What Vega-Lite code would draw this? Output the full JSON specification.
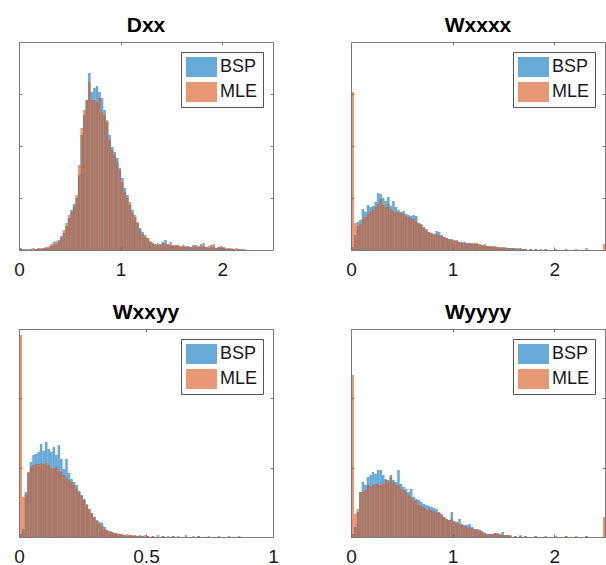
{
  "$schema": "https://vega.github.io/schema/vega-lite/v6.json",
  "padding": {"left": 13, "top": 14, "right": 0, "bottom": 0},
  "background": "white",
  "columns": 2,
  "spacing": {"row": 79, "column": 78},
  "bounds": "flush",
  "datasets": {
    "dxx": [
      {"s":"BSP","x":0,"c":1},{"s":"BSP","x":0.05,"c":1},{"s":"BSP","x":0.1,"c":1},{"s":"BSP","x":0.15,"c":1},{"s":"BSP","x":0.175,"c":2},{"s":"BSP","x":0.2,"c":1},{"s":"BSP","x":0.225,"c":2},{"s":"BSP","x":0.25,"c":3},{"s":"BSP","x":0.275,"c":2},{"s":"BSP","x":0.3,"c":4},{"s":"BSP","x":0.325,"c":8},{"s":"BSP","x":0.35,"c":6},{"s":"BSP","x":0.375,"c":10},{"s":"BSP","x":0.4,"c":14},{"s":"BSP","x":0.425,"c":17},{"s":"BSP","x":0.45,"c":24},{"s":"BSP","x":0.475,"c":32},{"s":"BSP","x":0.5,"c":40},{"s":"BSP","x":0.525,"c":46},{"s":"BSP","x":0.55,"c":52},{"s":"BSP","x":0.575,"c":75},{"s":"BSP","x":0.6,"c":115},{"s":"BSP","x":0.625,"c":135},{"s":"BSP","x":0.65,"c":150},{"s":"BSP","x":0.675,"c":177},{"s":"BSP","x":0.7,"c":158},{"s":"BSP","x":0.725,"c":162},{"s":"BSP","x":0.75,"c":164},{"s":"BSP","x":0.775,"c":158},{"s":"BSP","x":0.8,"c":152},{"s":"BSP","x":0.825,"c":140},{"s":"BSP","x":0.85,"c":128},{"s":"BSP","x":0.875,"c":115},{"s":"BSP","x":0.9,"c":103},{"s":"BSP","x":0.925,"c":98},{"s":"BSP","x":0.95,"c":92},{"s":"BSP","x":0.975,"c":82},{"s":"BSP","x":1.0,"c":72},{"s":"BSP","x":1.025,"c":62},{"s":"BSP","x":1.05,"c":55},{"s":"BSP","x":1.075,"c":45},{"s":"BSP","x":1.1,"c":40},{"s":"BSP","x":1.125,"c":33},{"s":"BSP","x":1.15,"c":27},{"s":"BSP","x":1.175,"c":22},{"s":"BSP","x":1.2,"c":18},{"s":"BSP","x":1.225,"c":15},{"s":"BSP","x":1.25,"c":12},{"s":"BSP","x":1.275,"c":8},{"s":"BSP","x":1.3,"c":7},{"s":"BSP","x":1.325,"c":6},{"s":"BSP","x":1.35,"c":5},{"s":"BSP","x":1.375,"c":6},{"s":"BSP","x":1.4,"c":8},{"s":"BSP","x":1.425,"c":10},{"s":"BSP","x":1.45,"c":6},{"s":"BSP","x":1.475,"c":5},{"s":"BSP","x":1.5,"c":4},{"s":"BSP","x":1.525,"c":5},{"s":"BSP","x":1.55,"c":4},{"s":"BSP","x":1.575,"c":3},{"s":"BSP","x":1.6,"c":5},{"s":"BSP","x":1.625,"c":3},{"s":"BSP","x":1.65,"c":4},{"s":"BSP","x":1.675,"c":3},{"s":"BSP","x":1.7,"c":4},{"s":"BSP","x":1.725,"c":5},{"s":"BSP","x":1.75,"c":3},{"s":"BSP","x":1.775,"c":6},{"s":"BSP","x":1.8,"c":4},{"s":"BSP","x":1.825,"c":3},{"s":"BSP","x":1.85,"c":2},{"s":"BSP","x":1.875,"c":5},{"s":"BSP","x":1.9,"c":3},{"s":"BSP","x":1.925,"c":2},{"s":"BSP","x":1.95,"c":3},{"s":"BSP","x":1.975,"c":4},{"s":"BSP","x":2.0,"c":2},{"s":"BSP","x":2.025,"c":1},{"s":"BSP","x":2.05,"c":2},{"s":"BSP","x":2.075,"c":1},{"s":"BSP","x":2.1,"c":1},{"s":"BSP","x":2.15,"c":1},
      {"s":"MLE","x":0,"c":2},{"s":"MLE","x":0.025,"c":1},{"s":"MLE","x":0.075,"c":1},{"s":"MLE","x":0.1,"c":1},{"s":"MLE","x":0.125,"c":2},{"s":"MLE","x":0.15,"c":1},{"s":"MLE","x":0.175,"c":1},{"s":"MLE","x":0.2,"c":2},{"s":"MLE","x":0.225,"c":2},{"s":"MLE","x":0.25,"c":2},{"s":"MLE","x":0.275,"c":4},{"s":"MLE","x":0.3,"c":6},{"s":"MLE","x":0.325,"c":5},{"s":"MLE","x":0.35,"c":9},{"s":"MLE","x":0.375,"c":8},{"s":"MLE","x":0.4,"c":12},{"s":"MLE","x":0.425,"c":20},{"s":"MLE","x":0.45,"c":27},{"s":"MLE","x":0.475,"c":35},{"s":"MLE","x":0.5,"c":38},{"s":"MLE","x":0.525,"c":44},{"s":"MLE","x":0.55,"c":55},{"s":"MLE","x":0.575,"c":85},{"s":"MLE","x":0.6,"c":122},{"s":"MLE","x":0.625,"c":140},{"s":"MLE","x":0.65,"c":150},{"s":"MLE","x":0.675,"c":168},{"s":"MLE","x":0.7,"c":150},{"s":"MLE","x":0.725,"c":150},{"s":"MLE","x":0.75,"c":148},{"s":"MLE","x":0.775,"c":152},{"s":"MLE","x":0.8,"c":138},{"s":"MLE","x":0.825,"c":135},{"s":"MLE","x":0.85,"c":130},{"s":"MLE","x":0.875,"c":110},{"s":"MLE","x":0.9,"c":100},{"s":"MLE","x":0.925,"c":95},{"s":"MLE","x":0.95,"c":88},{"s":"MLE","x":0.975,"c":80},{"s":"MLE","x":1.0,"c":68},{"s":"MLE","x":1.025,"c":58},{"s":"MLE","x":1.05,"c":52},{"s":"MLE","x":1.075,"c":48},{"s":"MLE","x":1.1,"c":37},{"s":"MLE","x":1.125,"c":35},{"s":"MLE","x":1.15,"c":28},{"s":"MLE","x":1.175,"c":20},{"s":"MLE","x":1.2,"c":16},{"s":"MLE","x":1.225,"c":13},{"s":"MLE","x":1.25,"c":12},{"s":"MLE","x":1.275,"c":9},{"s":"MLE","x":1.3,"c":6},{"s":"MLE","x":1.325,"c":5},{"s":"MLE","x":1.35,"c":7},{"s":"MLE","x":1.375,"c":5},{"s":"MLE","x":1.4,"c":7},{"s":"MLE","x":1.425,"c":6},{"s":"MLE","x":1.45,"c":5},{"s":"MLE","x":1.475,"c":8},{"s":"MLE","x":1.5,"c":5},{"s":"MLE","x":1.525,"c":4},{"s":"MLE","x":1.55,"c":5},{"s":"MLE","x":1.575,"c":4},{"s":"MLE","x":1.6,"c":3},{"s":"MLE","x":1.625,"c":4},{"s":"MLE","x":1.65,"c":3},{"s":"MLE","x":1.675,"c":3},{"s":"MLE","x":1.7,"c":5},{"s":"MLE","x":1.725,"c":3},{"s":"MLE","x":1.75,"c":4},{"s":"MLE","x":1.775,"c":3},{"s":"MLE","x":1.8,"c":7},{"s":"MLE","x":1.825,"c":3},{"s":"MLE","x":1.85,"c":4},{"s":"MLE","x":1.875,"c":3},{"s":"MLE","x":1.9,"c":6},{"s":"MLE","x":1.925,"c":2},{"s":"MLE","x":1.95,"c":3},{"s":"MLE","x":1.975,"c":2},{"s":"MLE","x":2.0,"c":3},{"s":"MLE","x":2.025,"c":2},{"s":"MLE","x":2.05,"c":1},{"s":"MLE","x":2.075,"c":2},{"s":"MLE","x":2.1,"c":1},{"s":"MLE","x":2.125,"c":2},{"s":"MLE","x":2.15,"c":1},{"s":"MLE","x":2.175,"c":1},{"s":"MLE","x":2.2,"c":1}
    ],
    "wxxxx": [
      {"s":"BSP","x":0,"c":3},{"s":"BSP","x":0.025,"c":15},{"s":"BSP","x":0.05,"c":28},{"s":"BSP","x":0.075,"c":30},{"s":"BSP","x":0.1,"c":41},{"s":"BSP","x":0.125,"c":38},{"s":"BSP","x":0.15,"c":45},{"s":"BSP","x":0.175,"c":43},{"s":"BSP","x":0.2,"c":44},{"s":"BSP","x":0.225,"c":48},{"s":"BSP","x":0.25,"c":57},{"s":"BSP","x":0.275,"c":56},{"s":"BSP","x":0.3,"c":52},{"s":"BSP","x":0.325,"c":49},{"s":"BSP","x":0.35,"c":53},{"s":"BSP","x":0.375,"c":44},{"s":"BSP","x":0.4,"c":49},{"s":"BSP","x":0.425,"c":43},{"s":"BSP","x":0.45,"c":40},{"s":"BSP","x":0.475,"c":38},{"s":"BSP","x":0.5,"c":39},{"s":"BSP","x":0.525,"c":36},{"s":"BSP","x":0.55,"c":35},{"s":"BSP","x":0.575,"c":34},{"s":"BSP","x":0.6,"c":35},{"s":"BSP","x":0.625,"c":34},{"s":"BSP","x":0.65,"c":27},{"s":"BSP","x":0.675,"c":26},{"s":"BSP","x":0.7,"c":23},{"s":"BSP","x":0.725,"c":20},{"s":"BSP","x":0.75,"c":18},{"s":"BSP","x":0.775,"c":17},{"s":"BSP","x":0.8,"c":16},{"s":"BSP","x":0.825,"c":19},{"s":"BSP","x":0.85,"c":18},{"s":"BSP","x":0.875,"c":15},{"s":"BSP","x":0.9,"c":13},{"s":"BSP","x":0.925,"c":12},{"s":"BSP","x":0.95,"c":11},{"s":"BSP","x":0.975,"c":11},{"s":"BSP","x":1.0,"c":10},{"s":"BSP","x":1.025,"c":9},{"s":"BSP","x":1.05,"c":8},{"s":"BSP","x":1.075,"c":8},{"s":"BSP","x":1.1,"c":8},{"s":"BSP","x":1.125,"c":7},{"s":"BSP","x":1.15,"c":7},{"s":"BSP","x":1.175,"c":6},{"s":"BSP","x":1.2,"c":7},{"s":"BSP","x":1.225,"c":6},{"s":"BSP","x":1.25,"c":5},{"s":"BSP","x":1.275,"c":5},{"s":"BSP","x":1.3,"c":4},{"s":"BSP","x":1.325,"c":4},{"s":"BSP","x":1.35,"c":4},{"s":"BSP","x":1.375,"c":3},{"s":"BSP","x":1.4,"c":3},{"s":"BSP","x":1.425,"c":3},{"s":"BSP","x":1.45,"c":2},{"s":"BSP","x":1.475,"c":3},{"s":"BSP","x":1.5,"c":2},{"s":"BSP","x":1.525,"c":2},{"s":"BSP","x":1.55,"c":2},{"s":"BSP","x":1.575,"c":2},{"s":"BSP","x":1.6,"c":2},{"s":"BSP","x":1.625,"c":1},{"s":"BSP","x":1.65,"c":2},{"s":"BSP","x":1.675,"c":1},{"s":"BSP","x":1.7,"c":1},{"s":"BSP","x":1.75,"c":1},{"s":"BSP","x":1.8,"c":1},{"s":"BSP","x":1.9,"c":1},{"s":"BSP","x":2.1,"c":1},
      {"s":"MLE","x":0,"c":158},{"s":"MLE","x":0.025,"c":27},{"s":"MLE","x":0.05,"c":24},{"s":"MLE","x":0.075,"c":26},{"s":"MLE","x":0.1,"c":31},{"s":"MLE","x":0.125,"c":33},{"s":"MLE","x":0.15,"c":36},{"s":"MLE","x":0.175,"c":39},{"s":"MLE","x":0.2,"c":40},{"s":"MLE","x":0.225,"c":43},{"s":"MLE","x":0.25,"c":46},{"s":"MLE","x":0.275,"c":51},{"s":"MLE","x":0.3,"c":45},{"s":"MLE","x":0.325,"c":43},{"s":"MLE","x":0.35,"c":46},{"s":"MLE","x":0.375,"c":41},{"s":"MLE","x":0.4,"c":39},{"s":"MLE","x":0.425,"c":38},{"s":"MLE","x":0.45,"c":38},{"s":"MLE","x":0.475,"c":37},{"s":"MLE","x":0.5,"c":36},{"s":"MLE","x":0.525,"c":34},{"s":"MLE","x":0.55,"c":33},{"s":"MLE","x":0.575,"c":32},{"s":"MLE","x":0.6,"c":31},{"s":"MLE","x":0.625,"c":28},{"s":"MLE","x":0.65,"c":27},{"s":"MLE","x":0.675,"c":25},{"s":"MLE","x":0.7,"c":22},{"s":"MLE","x":0.725,"c":21},{"s":"MLE","x":0.75,"c":18},{"s":"MLE","x":0.775,"c":17},{"s":"MLE","x":0.8,"c":15},{"s":"MLE","x":0.825,"c":16},{"s":"MLE","x":0.85,"c":15},{"s":"MLE","x":0.875,"c":14},{"s":"MLE","x":0.9,"c":13},{"s":"MLE","x":0.925,"c":12},{"s":"MLE","x":0.95,"c":11},{"s":"MLE","x":0.975,"c":10},{"s":"MLE","x":1.0,"c":9},{"s":"MLE","x":1.025,"c":10},{"s":"MLE","x":1.05,"c":8},{"s":"MLE","x":1.075,"c":7},{"s":"MLE","x":1.1,"c":7},{"s":"MLE","x":1.125,"c":6},{"s":"MLE","x":1.15,"c":7},{"s":"MLE","x":1.175,"c":7},{"s":"MLE","x":1.2,"c":6},{"s":"MLE","x":1.225,"c":7},{"s":"MLE","x":1.25,"c":6},{"s":"MLE","x":1.275,"c":5},{"s":"MLE","x":1.3,"c":6},{"s":"MLE","x":1.325,"c":4},{"s":"MLE","x":1.35,"c":4},{"s":"MLE","x":1.375,"c":4},{"s":"MLE","x":1.4,"c":4},{"s":"MLE","x":1.425,"c":3},{"s":"MLE","x":1.45,"c":3},{"s":"MLE","x":1.475,"c":2},{"s":"MLE","x":1.5,"c":3},{"s":"MLE","x":1.525,"c":2},{"s":"MLE","x":1.55,"c":2},{"s":"MLE","x":1.575,"c":2},{"s":"MLE","x":1.6,"c":1},{"s":"MLE","x":1.625,"c":2},{"s":"MLE","x":1.65,"c":1},{"s":"MLE","x":1.675,"c":1},{"s":"MLE","x":1.7,"c":1},{"s":"MLE","x":1.75,"c":1},{"s":"MLE","x":1.8,"c":1},{"s":"MLE","x":1.85,"c":1},{"s":"MLE","x":1.9,"c":1},{"s":"MLE","x":2.0,"c":1},{"s":"MLE","x":2.2,"c":1},{"s":"MLE","x":2.3,"c":2},{"s":"MLE","x":2.475,"c":6}
    ],
    "wxxyy": [
      {"s":"BSP","x":0,"c":3},{"s":"BSP","x":0.01,"c":8},{"s":"BSP","x":0.02,"c":45},{"s":"BSP","x":0.03,"c":65},{"s":"BSP","x":0.04,"c":75},{"s":"BSP","x":0.05,"c":82},{"s":"BSP","x":0.06,"c":83},{"s":"BSP","x":0.07,"c":85},{"s":"BSP","x":0.08,"c":93},{"s":"BSP","x":0.09,"c":86},{"s":"BSP","x":0.1,"c":95},{"s":"BSP","x":0.11,"c":88},{"s":"BSP","x":0.12,"c":85},{"s":"BSP","x":0.13,"c":90},{"s":"BSP","x":0.14,"c":82},{"s":"BSP","x":0.15,"c":92},{"s":"BSP","x":0.16,"c":78},{"s":"BSP","x":0.17,"c":68},{"s":"BSP","x":0.18,"c":78},{"s":"BSP","x":0.19,"c":64},{"s":"BSP","x":0.2,"c":58},{"s":"BSP","x":0.21,"c":55},{"s":"BSP","x":0.22,"c":52},{"s":"BSP","x":0.23,"c":46},{"s":"BSP","x":0.24,"c":42},{"s":"BSP","x":0.25,"c":38},{"s":"BSP","x":0.26,"c":32},{"s":"BSP","x":0.27,"c":28},{"s":"BSP","x":0.28,"c":24},{"s":"BSP","x":0.29,"c":20},{"s":"BSP","x":0.3,"c":17},{"s":"BSP","x":0.31,"c":15},{"s":"BSP","x":0.32,"c":14},{"s":"BSP","x":0.33,"c":10},{"s":"BSP","x":0.34,"c":7},{"s":"BSP","x":0.35,"c":6},{"s":"BSP","x":0.36,"c":5},{"s":"BSP","x":0.37,"c":4},{"s":"BSP","x":0.38,"c":3},{"s":"BSP","x":0.39,"c":3},{"s":"BSP","x":0.4,"c":2},{"s":"BSP","x":0.41,"c":2},{"s":"BSP","x":0.42,"c":1},{"s":"BSP","x":0.43,"c":2},{"s":"BSP","x":0.44,"c":1},{"s":"BSP","x":0.45,"c":1},{"s":"BSP","x":0.46,"c":1},{"s":"BSP","x":0.47,"c":1},{"s":"BSP","x":0.48,"c":1},{"s":"BSP","x":0.5,"c":1},{"s":"BSP","x":0.52,"c":1},{"s":"BSP","x":0.56,"c":1},{"s":"BSP","x":0.6,"c":1},{"s":"BSP","x":0.7,"c":1},
      {"s":"MLE","x":0,"c":202},{"s":"MLE","x":0.01,"c":40},{"s":"MLE","x":0.02,"c":42},{"s":"MLE","x":0.03,"c":64},{"s":"MLE","x":0.04,"c":70},{"s":"MLE","x":0.05,"c":72},{"s":"MLE","x":0.06,"c":73},{"s":"MLE","x":0.07,"c":73},{"s":"MLE","x":0.08,"c":74},{"s":"MLE","x":0.09,"c":73},{"s":"MLE","x":0.1,"c":74},{"s":"MLE","x":0.11,"c":72},{"s":"MLE","x":0.12,"c":69},{"s":"MLE","x":0.13,"c":69},{"s":"MLE","x":0.14,"c":70},{"s":"MLE","x":0.15,"c":66},{"s":"MLE","x":0.16,"c":65},{"s":"MLE","x":0.17,"c":62},{"s":"MLE","x":0.18,"c":59},{"s":"MLE","x":0.19,"c":57},{"s":"MLE","x":0.2,"c":55},{"s":"MLE","x":0.21,"c":52},{"s":"MLE","x":0.22,"c":48},{"s":"MLE","x":0.23,"c":45},{"s":"MLE","x":0.24,"c":41},{"s":"MLE","x":0.25,"c":37},{"s":"MLE","x":0.26,"c":33},{"s":"MLE","x":0.27,"c":28},{"s":"MLE","x":0.28,"c":24},{"s":"MLE","x":0.29,"c":20},{"s":"MLE","x":0.3,"c":16},{"s":"MLE","x":0.31,"c":13},{"s":"MLE","x":0.32,"c":11},{"s":"MLE","x":0.33,"c":8},{"s":"MLE","x":0.34,"c":7},{"s":"MLE","x":0.35,"c":5},{"s":"MLE","x":0.36,"c":5},{"s":"MLE","x":0.37,"c":4},{"s":"MLE","x":0.38,"c":4},{"s":"MLE","x":0.39,"c":3},{"s":"MLE","x":0.4,"c":3},{"s":"MLE","x":0.41,"c":2},{"s":"MLE","x":0.42,"c":3},{"s":"MLE","x":0.43,"c":2},{"s":"MLE","x":0.44,"c":2},{"s":"MLE","x":0.45,"c":2},{"s":"MLE","x":0.46,"c":1},{"s":"MLE","x":0.47,"c":2},{"s":"MLE","x":0.48,"c":1},{"s":"MLE","x":0.49,"c":2},{"s":"MLE","x":0.5,"c":1},{"s":"MLE","x":0.52,"c":1},{"s":"MLE","x":0.54,"c":2},{"s":"MLE","x":0.56,"c":1},{"s":"MLE","x":0.58,"c":1},{"s":"MLE","x":0.6,"c":1},{"s":"MLE","x":0.62,"c":1},{"s":"MLE","x":0.65,"c":2},{"s":"MLE","x":0.68,"c":1},{"s":"MLE","x":0.7,"c":1},{"s":"MLE","x":0.74,"c":1},{"s":"MLE","x":0.78,"c":1},{"s":"MLE","x":0.82,"c":1},{"s":"MLE","x":0.86,"c":1}
    ],
    "wyyyy": [
      {"s":"BSP","x":0,"c":3},{"s":"BSP","x":0.025,"c":10},{"s":"BSP","x":0.05,"c":25},{"s":"BSP","x":0.075,"c":45},{"s":"BSP","x":0.1,"c":55},{"s":"BSP","x":0.125,"c":52},{"s":"BSP","x":0.15,"c":60},{"s":"BSP","x":0.175,"c":62},{"s":"BSP","x":0.2,"c":65},{"s":"BSP","x":0.225,"c":63},{"s":"BSP","x":0.25,"c":67},{"s":"BSP","x":0.275,"c":67},{"s":"BSP","x":0.3,"c":62},{"s":"BSP","x":0.325,"c":58},{"s":"BSP","x":0.35,"c":57},{"s":"BSP","x":0.375,"c":62},{"s":"BSP","x":0.4,"c":57},{"s":"BSP","x":0.425,"c":55},{"s":"BSP","x":0.45,"c":67},{"s":"BSP","x":0.475,"c":53},{"s":"BSP","x":0.5,"c":50},{"s":"BSP","x":0.525,"c":48},{"s":"BSP","x":0.55,"c":45},{"s":"BSP","x":0.575,"c":48},{"s":"BSP","x":0.6,"c":40},{"s":"BSP","x":0.625,"c":38},{"s":"BSP","x":0.65,"c":37},{"s":"BSP","x":0.675,"c":35},{"s":"BSP","x":0.7,"c":33},{"s":"BSP","x":0.725,"c":32},{"s":"BSP","x":0.75,"c":31},{"s":"BSP","x":0.775,"c":30},{"s":"BSP","x":0.8,"c":29},{"s":"BSP","x":0.825,"c":28},{"s":"BSP","x":0.85,"c":25},{"s":"BSP","x":0.875,"c":23},{"s":"BSP","x":0.9,"c":20},{"s":"BSP","x":0.925,"c":18},{"s":"BSP","x":0.95,"c":17},{"s":"BSP","x":0.975,"c":25},{"s":"BSP","x":1.0,"c":16},{"s":"BSP","x":1.025,"c":15},{"s":"BSP","x":1.05,"c":18},{"s":"BSP","x":1.075,"c":13},{"s":"BSP","x":1.1,"c":12},{"s":"BSP","x":1.125,"c":12},{"s":"BSP","x":1.15,"c":13},{"s":"BSP","x":1.175,"c":10},{"s":"BSP","x":1.2,"c":8},{"s":"BSP","x":1.225,"c":8},{"s":"BSP","x":1.25,"c":7},{"s":"BSP","x":1.275,"c":6},{"s":"BSP","x":1.3,"c":4},{"s":"BSP","x":1.325,"c":3},{"s":"BSP","x":1.35,"c":3},{"s":"BSP","x":1.375,"c":3},{"s":"BSP","x":1.4,"c":4},{"s":"BSP","x":1.425,"c":4},{"s":"BSP","x":1.45,"c":3},{"s":"BSP","x":1.475,"c":5},{"s":"BSP","x":1.5,"c":2},{"s":"BSP","x":1.525,"c":2},{"s":"BSP","x":1.55,"c":2},{"s":"BSP","x":1.6,"c":1},{"s":"BSP","x":1.65,"c":1},{"s":"BSP","x":1.7,"c":1},{"s":"BSP","x":1.8,"c":1},{"s":"BSP","x":1.9,"c":1},{"s":"BSP","x":2.1,"c":1},{"s":"BSP","x":2.3,"c":1},
      {"s":"MLE","x":0,"c":162},{"s":"MLE","x":0.025,"c":23},{"s":"MLE","x":0.05,"c":28},{"s":"MLE","x":0.075,"c":45},{"s":"MLE","x":0.1,"c":45},{"s":"MLE","x":0.125,"c":47},{"s":"MLE","x":0.15,"c":52},{"s":"MLE","x":0.175,"c":51},{"s":"MLE","x":0.2,"c":52},{"s":"MLE","x":0.225,"c":53},{"s":"MLE","x":0.25,"c":53},{"s":"MLE","x":0.275,"c":52},{"s":"MLE","x":0.3,"c":53},{"s":"MLE","x":0.325,"c":57},{"s":"MLE","x":0.35,"c":55},{"s":"MLE","x":0.375,"c":60},{"s":"MLE","x":0.4,"c":55},{"s":"MLE","x":0.425,"c":52},{"s":"MLE","x":0.45,"c":52},{"s":"MLE","x":0.475,"c":48},{"s":"MLE","x":0.5,"c":47},{"s":"MLE","x":0.525,"c":45},{"s":"MLE","x":0.55,"c":42},{"s":"MLE","x":0.575,"c":40},{"s":"MLE","x":0.6,"c":37},{"s":"MLE","x":0.625,"c":36},{"s":"MLE","x":0.65,"c":32},{"s":"MLE","x":0.675,"c":31},{"s":"MLE","x":0.7,"c":30},{"s":"MLE","x":0.725,"c":28},{"s":"MLE","x":0.75,"c":28},{"s":"MLE","x":0.775,"c":27},{"s":"MLE","x":0.8,"c":26},{"s":"MLE","x":0.825,"c":25},{"s":"MLE","x":0.85,"c":24},{"s":"MLE","x":0.875,"c":22},{"s":"MLE","x":0.9,"c":20},{"s":"MLE","x":0.925,"c":18},{"s":"MLE","x":0.95,"c":17},{"s":"MLE","x":0.975,"c":18},{"s":"MLE","x":1.0,"c":15},{"s":"MLE","x":1.025,"c":14},{"s":"MLE","x":1.05,"c":13},{"s":"MLE","x":1.075,"c":12},{"s":"MLE","x":1.1,"c":11},{"s":"MLE","x":1.125,"c":10},{"s":"MLE","x":1.15,"c":9},{"s":"MLE","x":1.175,"c":9},{"s":"MLE","x":1.2,"c":8},{"s":"MLE","x":1.225,"c":7},{"s":"MLE","x":1.25,"c":7},{"s":"MLE","x":1.275,"c":5},{"s":"MLE","x":1.3,"c":4},{"s":"MLE","x":1.325,"c":3},{"s":"MLE","x":1.35,"c":3},{"s":"MLE","x":1.375,"c":3},{"s":"MLE","x":1.4,"c":4},{"s":"MLE","x":1.425,"c":3},{"s":"MLE","x":1.45,"c":2},{"s":"MLE","x":1.475,"c":2},{"s":"MLE","x":1.5,"c":2},{"s":"MLE","x":1.525,"c":2},{"s":"MLE","x":1.55,"c":1},{"s":"MLE","x":1.6,"c":1},{"s":"MLE","x":1.65,"c":2},{"s":"MLE","x":1.7,"c":1},{"s":"MLE","x":1.8,"c":1},{"s":"MLE","x":2.0,"c":1},{"s":"MLE","x":2.1,"c":1},{"s":"MLE","x":2.2,"c":1},{"s":"MLE","x":2.3,"c":1},{"s":"MLE","x":2.475,"c":20}
    ]
  },
  "concat": [
    {
      "title": "Dxx",
      "data": {"name": "dxx"},
      "width": 254,
      "height": 208,
      "layer": [
        {
          "mark": {"type": "bar", "binSpacing": 0, "opacity": 0.6},
          "encoding": {
            "x": {"field": "x", "type": "quantitative", "bin": {"binned": true, "step": 0.025}, "scale": {"domain": [0, 2.5], "nice": false}, "axis": {"values": [0, 1, 2], "format": "~g", "orient": "bottom"}},
            "y": {"field": "c", "type": "quantitative", "stack": null, "scale": {"domain": [0, 208], "nice": false}, "axis": {"values": [52, 104, 156], "labels": false, "orient": "left"}},
            "color": {"field": "s", "type": "nominal", "scale": {"domain": ["BSP", "MLE"], "range": ["#0072BD", "#D95319"]}, "legend": {"title": null}}
          }
        },
        {
          "mark": {"type": "bar", "binSpacing": 0, "opacity": 0},
          "encoding": {
            "x": {"field": "x", "type": "quantitative", "bin": {"binned": true, "step": 0.025}, "scale": {"domain": [0, 2.5], "nice": false}, "axis": {"values": [0, 1, 2], "orient": "top", "labels": false}},
            "y": {"field": "c", "type": "quantitative", "stack": null, "scale": {"domain": [0, 208], "nice": false}, "axis": {"values": [52, 104, 156], "labels": false, "orient": "right"}}
          }
        }
      ],
      "resolve": {"axis": {"x": "independent", "y": "independent"}}
    },
    {
      "title": "Wxxxx",
      "data": {"name": "wxxxx"},
      "width": 254,
      "height": 208,
      "layer": [
        {
          "mark": {"type": "bar", "binSpacing": 0, "opacity": 0.6},
          "encoding": {
            "x": {"field": "x", "type": "quantitative", "bin": {"binned": true, "step": 0.025}, "scale": {"domain": [0, 2.5], "nice": false}, "axis": {"values": [0, 1, 2], "format": "~g", "orient": "bottom"}},
            "y": {"field": "c", "type": "quantitative", "stack": null, "scale": {"domain": [0, 208], "nice": false}, "axis": {"values": [52, 104, 156], "labels": false, "orient": "left"}},
            "color": {"field": "s", "type": "nominal", "scale": {"domain": ["BSP", "MLE"], "range": ["#0072BD", "#D95319"]}, "legend": {"title": null}}
          }
        },
        {
          "mark": {"type": "bar", "binSpacing": 0, "opacity": 0},
          "encoding": {
            "x": {"field": "x", "type": "quantitative", "bin": {"binned": true, "step": 0.025}, "scale": {"domain": [0, 2.5], "nice": false}, "axis": {"values": [0, 1, 2], "orient": "top", "labels": false}},
            "y": {"field": "c", "type": "quantitative", "stack": null, "scale": {"domain": [0, 208], "nice": false}, "axis": {"values": [52, 104, 156], "labels": false, "orient": "right"}}
          }
        }
      ],
      "resolve": {"axis": {"x": "independent", "y": "independent"}}
    },
    {
      "title": "Wxxyy",
      "data": {"name": "wxxyy"},
      "width": 254,
      "height": 208,
      "layer": [
        {
          "mark": {"type": "bar", "binSpacing": 0, "opacity": 0.6},
          "encoding": {
            "x": {"field": "x", "type": "quantitative", "bin": {"binned": true, "step": 0.01}, "scale": {"domain": [0, 1], "nice": false}, "axis": {"values": [0, 0.5, 1], "format": "~g", "orient": "bottom"}},
            "y": {"field": "c", "type": "quantitative", "stack": null, "scale": {"domain": [0, 208], "nice": false}, "axis": {"values": [69.33, 138.67], "labels": false, "orient": "left"}},
            "color": {"field": "s", "type": "nominal", "scale": {"domain": ["BSP", "MLE"], "range": ["#0072BD", "#D95319"]}, "legend": {"title": null}}
          }
        },
        {
          "mark": {"type": "bar", "binSpacing": 0, "opacity": 0},
          "encoding": {
            "x": {"field": "x", "type": "quantitative", "bin": {"binned": true, "step": 0.01}, "scale": {"domain": [0, 1], "nice": false}, "axis": {"values": [0, 0.5, 1], "orient": "top", "labels": false}},
            "y": {"field": "c", "type": "quantitative", "stack": null, "scale": {"domain": [0, 208], "nice": false}, "axis": {"values": [69.33, 138.67], "labels": false, "orient": "right"}}
          }
        }
      ],
      "resolve": {"axis": {"x": "independent", "y": "independent"}}
    },
    {
      "title": "Wyyyy",
      "data": {"name": "wyyyy"},
      "width": 254,
      "height": 208,
      "layer": [
        {
          "mark": {"type": "bar", "binSpacing": 0, "opacity": 0.6},
          "encoding": {
            "x": {"field": "x", "type": "quantitative", "bin": {"binned": true, "step": 0.025}, "scale": {"domain": [0, 2.5], "nice": false}, "axis": {"values": [0, 1, 2], "format": "~g", "orient": "bottom"}},
            "y": {"field": "c", "type": "quantitative", "stack": null, "scale": {"domain": [0, 208], "nice": false}, "axis": {"values": [69.33, 138.67], "labels": false, "orient": "left"}},
            "color": {"field": "s", "type": "nominal", "scale": {"domain": ["BSP", "MLE"], "range": ["#0072BD", "#D95319"]}, "legend": {"title": null}}
          }
        },
        {
          "mark": {"type": "bar", "binSpacing": 0, "opacity": 0},
          "encoding": {
            "x": {"field": "x", "type": "quantitative", "bin": {"binned": true, "step": 0.025}, "scale": {"domain": [0, 2.5], "nice": false}, "axis": {"values": [0, 1, 2], "orient": "top", "labels": false}},
            "y": {"field": "c", "type": "quantitative", "stack": null, "scale": {"domain": [0, 208], "nice": false}, "axis": {"values": [69.33, 138.67], "labels": false, "orient": "right"}}
          }
        }
      ],
      "resolve": {"axis": {"x": "independent", "y": "independent"}}
    }
  ],
  "resolve": {"scale": {"color": "independent"}, "legend": {"color": "independent"}},
  "config": {
    "font": "Liberation Sans",
    "view": {"stroke": null},
    "axis": {
      "title": null,
      "grid": false,
      "domainColor": "#7a7a7a",
      "tickColor": "#7a7a7a",
      "tickSize": -3,
      "labelFontSize": 19,
      "labelColor": "#1a1a1a",
      "labelPadding": 13,
      "labelFlush": false,
      "labelOverlap": false,
      "labelBound": false,
      "zindex": 1
    },
    "title": {"fontSize": 21, "fontWeight": "bold", "color": "#000000", "offset": 6, "anchor": "middle"},
    "legend": {
      "orient": "top-right",
      "offset": 10,
      "padding": 5,
      "strokeColor": "#555555",
      "fillColor": "white",
      "labelFontSize": 18,
      "labelColor": "#1a1a1a",
      "labelOffset": 14,
      "rowPadding": 5,
      "symbolType": "M-1,-1H2.1V1H-1Z",
      "symbolSize": 400,
      "symbolOpacity": 0.6,
      "symbolStrokeWidth": 0
    }
  }
}
